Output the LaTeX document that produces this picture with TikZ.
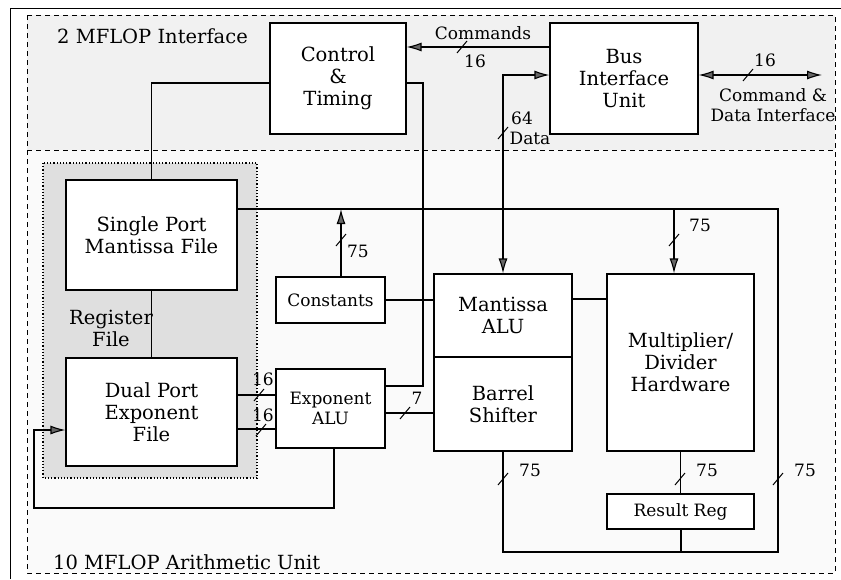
\documentclass[tikz,border=0pt]{standalone}
\usepackage{fontspec}
\setmainfont{DejaVu Serif}
\usetikzlibrary{arrows.meta,calc}
\definecolor{tipgray}{gray}{0.4}
\begin{document}
\begin{tikzpicture}[x={1pt},y={-1pt},
  box/.style={draw,line width=1.1pt,fill=white,inner sep=0pt,align=center,font=\fontsize{19.5}{22}\selectfont},
  sbox/.style={box,font=\fontsize{17}{20}\selectfont},
  wire/.style={line width=1.1pt},
  bus/.style={line width=2pt},
  tip/.style={-{Latex[length=15pt,width=9pt,fill=tipgray]}},
  tips/.style={{Latex[length=15pt,width=9pt,fill=tipgray]}-{Latex[length=15pt,width=9pt,fill=tipgray]}},
  lbl/.style={font=\fontsize{17}{20}\selectfont,inner sep=0pt},
  big/.style={font=\fontsize{19.5}{22}\selectfont,inner sep=0pt},
  slsh/.pic={\draw[line width=1pt] (-5,6) -- (5,-6);}
]
\useasboundingbox (0,0) rectangle (841,579);
% backgrounds
\fill[white] (0,0) rectangle (841,579);
\fill[gray!4] (27,150) rectangle (835,573);
\fill[gray!11] (27,15) rectangle (835,150);
\draw[line width=1pt] (10,579) -- (10,8) -- (841,8);
\draw[dashed,line width=0.9pt,dash pattern=on 5pt off 4pt] (27,15) rectangle (835,573);
\draw[dashed,line width=0.9pt,dash pattern=on 5pt off 4pt] (27,150) -- (835,150);
% register file area
\draw[dotted,line width=1.2pt,fill=gray!25] (43,163) rectangle (257,478);
% labels of regions
\node[big,anchor=west] (lint) at (57,36) {2 MFLOP Interface};
\node[big,anchor=west] (larith) at (53,562) {10 MFLOP Arithmetic Unit};
\node[big,align=center] (lreg) at (111,328) {Register\\File};
% boxes
\node[box,minimum width=136pt,minimum height=111pt] (Control) at (338,78.5) {Control\\\&\\Timing};
\node[box,minimum width=148pt,minimum height=111pt] (Bus) at (624,78.5) {Bus\\Interface\\Unit};
\node[box,minimum width=171pt,minimum height=110pt] (Single) at (151.5,235) {Single Port\\Mantissa File};
\node[box,minimum width=171pt,minimum height=108pt] (Dual) at (151.5,412) {Dual Port\\Exponent\\File};
\node[sbox,minimum width=109pt,minimum height=46pt] (Const) at (330.5,300) {Constants};
\node[sbox,minimum width=109pt,minimum height=79pt] (ExpALU) at (330.5,408.5) {Exponent\\ALU};
\node[box,minimum width=138pt,minimum height=83pt] (MantALU) at (503,315.5) {Mantissa\\ALU};
\node[box,minimum width=138pt,minimum height=94pt] (Barrel) at (503,404) {Barrel\\Shifter};
\node[box,minimum width=147pt,minimum height=177pt] (Mult) at (680.5,362.5) {Multiplier/\\Divider\\Hardware};
\node[sbox,minimum width=147pt,minimum height=35pt] (Result) at (680.5,511.5) {Result Reg};
% coordinates
\coordinate (ext) at (822,75);
\coordinate (ctrlc) at (423,386);
\coordinate (busR) at (778,209);
\coordinate (busBR) at (778,552);
\coordinate (busBL) at (503,552);
\coordinate (fbA) at (334,508);
\coordinate (fbB) at (34,508);
\coordinate (fbC) at (34,430);
% connectors
\draw[wire,tip] (Bus.west |- 0,47) -- (Control.east |- 0,47);
\draw[wire,tips] (MantALU.north) |- (Bus.west |- 0,75);
\draw[wire,tips] (Bus.east |- ext) -- (ext);
\draw[wire] (Control.west |- 0,83) -| (Single.north);
\draw[wire] (Single.south) -- (Dual.north);
\draw[wire] (Control.east |- 0,83) -| (ctrlc) -- (ExpALU.east |- ctrlc);
\draw[bus] (Single.east |- busR) -- (busR) -- (busBR) -- (busBL) -- (Barrel.south);
\draw[bus] (Result.south) -- (Result.south |- busBL);
\draw[wire,tip] (Const.north -| 341,0) -- (341,209);
\draw[wire,tip] (674,209) -- (Mult.north -| 674,0);
\draw[wire] (Const.east) -- (MantALU.west |- Const.east);
\draw[wire] (MantALU.east |- 0,299) -- (Mult.west |- 0,299);
\draw[wire] (ExpALU.east |- 0,413) -- (Barrel.west |- 0,413);
\draw[wire] (Dual.east |- 0,395) -- (ExpALU.west |- 0,395);
\draw[wire] (Dual.east |- 0,429) -- (ExpALU.west |- 0,429);
\draw[wire,tip] (ExpALU.south -| fbA) -- (fbA) -- (fbB) -- (fbC) -- (Dual.west |- fbC);
\draw[wire] (Mult.south) -- (Result.north);
% bus width slashes
\pic at (462,47) {slsh};
\pic at (503,133) {slsh};
\pic at (748,75) {slsh};
\pic at (341,240) {slsh};
\pic at (674,240) {slsh};
\pic at (259,395) {slsh};
\pic at (261,430) {slsh};
\pic at (405,413) {slsh};
\pic at (503,479) {slsh};
\pic at (680,479) {slsh};
\pic at (778,479) {slsh};
% width labels
\node[lbl] (tcmd) at (483,33) {Commands};
\node[lbl] (t16a) at (475,61) {16};
\node[lbl] (t16b) at (765,60) {16};
\node[lbl,align=center] (tcdi) at (773,105) {Command \&\\Data Interface};
\node[lbl] (t64) at (522,118) {64};
\node[lbl] (tdata) at (530,138) {Data};
\node[lbl] (t75a) at (358,251) {75};
\node[lbl] (t75b) at (700,225) {75};
\node[lbl] (t16c) at (263,379) {16};
\node[lbl] (t16d) at (263,415) {16};
\node[lbl] (t7) at (417,398) {7};
\node[lbl] (t75c) at (530,470) {75};
\node[lbl] (t75d) at (707,470) {75};
\node[lbl] (t75e) at (805,470) {75};
\end{tikzpicture}
\end{document}
